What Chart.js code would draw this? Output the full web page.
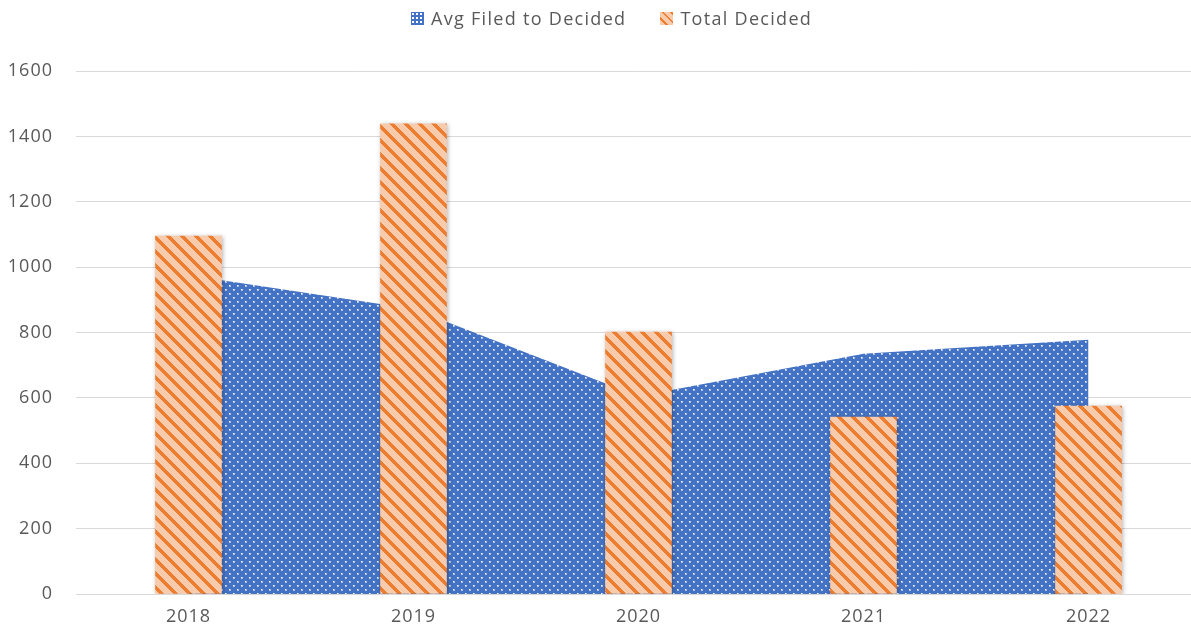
<!DOCTYPE html>
<html>
<head>
<meta charset="utf-8">
<script src="https://cdn.jsdelivr.net/npm/chart.js@4/dist/chart.umd.min.js"></script>
<style>
  html, body { margin: 0; padding: 0; background: #fff; overflow: hidden; width: 1191px; height: 632px; }
  #wrap { position: relative; width: 1201px; height: 632px; }
  #legend { position: absolute; top: 6px; left: 411px; font-family: "Open Sans", sans-serif; font-size: 18px; letter-spacing: 1.3px; color: #595959; display: flex; align-items: center; white-space: nowrap; }
  .item { display: flex; align-items: center; }
  .box { width: 13px; height: 13px; margin-right: 7px; }
  #b1 { background-color: #4472C4; background-image: radial-gradient(circle, #fff 1px, transparent 1.3px); background-size: 4px 4px; background-position: 0 0; }
  #b2 { background: repeating-linear-gradient(45deg, #F8CBAD 0px, #F8CBAD 4px, #ED7D31 4px, #ED7D31 6px); }
</style>
</head>
<body>
<div id="wrap">
  <div id="legend">
    <div class="item"><div class="box" id="b1"></div><span id="l1"></span></div>
    <div class="item" style="margin-left:34px"><div class="box" id="b2"></div><span id="l2"></span></div>
  </div>
  <canvas id="c" width="1201" height="632"></canvas>
</div>
<script>
const categories = ["2018", "2019", "2020", "2021", "2022"];
const avgFiledToDecided = [975, 872, 605, 735, 778];
const totalDecided = [1095, 1438, 801, 541, 575];
const seriesNames = ["Avg Filed to Decided", "Total Decided"];
const yTicks = [0, 200, 400, 600, 800, 1000, 1200, 1400, 1600];

document.getElementById('l1').textContent = seriesNames[0];
document.getElementById('l2').textContent = seriesNames[1];

function dotPattern() {
  const c = document.createElement('canvas');
  c.width = 8; c.height = 8;
  const x = c.getContext('2d');
  x.fillStyle = '#4472C4'; x.fillRect(0, 0, 8, 8);
  x.fillStyle = 'rgba(255,255,255,0.55)';
  x.fillRect(1, 1, 2, 2); x.fillRect(5, 5, 2, 2);
  x.fillStyle = '#ffffff';
  x.fillRect(1, 1, 1, 1); x.fillRect(5, 5, 1, 1);
  return x.createPattern(c, 'repeat');
}
function stripePattern() {
  const N = 14, D = 5;
  const c = document.createElement('canvas');
  c.width = N; c.height = N;
  const x = c.getContext('2d');
  const img = x.createImageData(N, N);
  for (let yy = 0; yy < N; yy++) for (let xx = 0; xx < N; xx++) {
    const k = ((xx - yy) % N + N) % N;
    const i = (yy * N + xx) * 4;
    const dark = k < D;
    img.data[i] = dark ? 0xED : 0xF8;
    img.data[i+1] = dark ? 0x7D : 0xCB;
    img.data[i+2] = dark ? 0x31 : 0xAD;
    img.data[i+3] = 255;
  }
  x.putImageData(img, 0, 0);
  return x.createPattern(c, 'repeat');
}

const shadowPlugin = {
  id: 'shadow',
  beforeDraw(chart) { chart.ctx.letterSpacing = '1px'; },
  beforeDatasetDraw(chart) {
    const ctx = chart.ctx;
    ctx.save();
    ctx.shadowColor = 'rgba(0,0,0,0.3)';
    ctx.shadowBlur = 4;
    ctx.shadowOffsetX = 1;
    ctx.shadowOffsetY = 1;
  },
  afterDatasetDraw(chart) { chart.ctx.restore(); }
};

new Chart(document.getElementById('c'), {
  type: 'bar',
  data: {
    labels: categories,
    datasets: [
      {
        type: 'line',
        label: seriesNames[0],
        data: avgFiledToDecided,
        fill: 'origin',
        backgroundColor: dotPattern(),
        borderWidth: 0,
        borderColor: 'rgba(0,0,0,0)',
        pointRadius: 0,
        tension: 0,
        order: 2
      },
      {
        type: 'bar',
        label: seriesNames[1],
        data: totalDecided,
        backgroundColor: stripePattern(),
        borderWidth: 0,
        barThickness: 66,
        order: 1
      }
    ]
  },
  options: {
    responsive: false,
    animation: false,
    layout: { padding: { top: 71, left: 0, right: 0, bottom: 0 } },
    plugins: { legend: { display: false }, tooltip: { enabled: false } },
    scales: {
      x: {
        offset: true,
        grid: { display: false },
        border: { display: true, color: '#d9d9d9', width: 1 },
        ticks: { color: '#595959', font: { family: 'Open Sans', size: 18 }, padding: 4 },
        afterFit(s) { s.height = 38; }
      },
      y: {
        min: 0, max: 1600,
        afterBuildTicks(s) { s.ticks = yTicks.map(v => ({ value: v })); },
        grid: { color: '#d9d9d9', drawTicks: false, lineWidth: 1 },
        border: { display: false },
        ticks: { color: '#595959', font: { family: 'Open Sans', size: 18 }, padding: 23, callback: (v) => String(v) },
        afterFit(s) { s.width = 76; }
      }
    }
  },
  plugins: [shadowPlugin]
});
</script>
</body>
</html>
